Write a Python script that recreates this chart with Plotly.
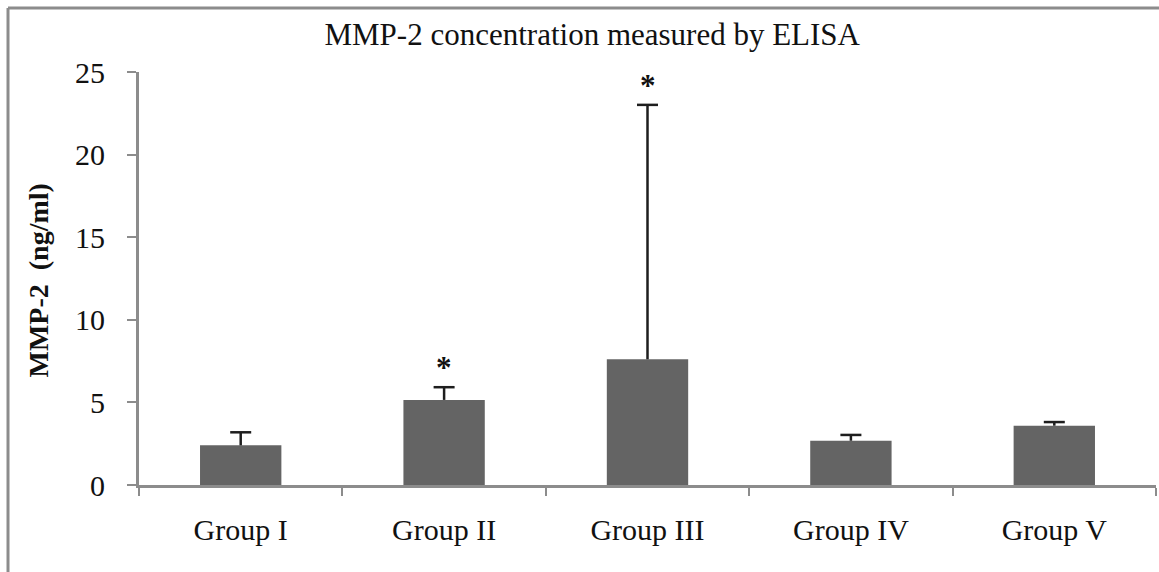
import plotly.graph_objects as go

# MMP-2 by group (mean and standard deviation, ng/ml)
groups = ["Group I", "Group II", "Group III", "Group IV", "Group V"]
means = [2.40, 5.15, 7.61, 2.68, 3.59]
sds = [0.79, 0.77, 15.4, 0.35, 0.22]
significant = [False, True, True, False, False]
y_ticks = [0, 5, 10, 15, 20, 25]

SERIF = "Liberation Serif, Times New Roman, serif"
AXIS_GREY = "#8c8c8c"
INK = "#1e1e1e"

tops = [m + s for m, s in zip(means, sds)]

fig = go.Figure()
fig.add_trace(go.Bar(
    x=groups,
    y=means,
    marker=dict(color="#646464", line=dict(width=0)),
    error_y=dict(type="data", array=sds, symmetric=False, arrayminus=[0] * len(sds),
                 color=INK, thickness=2.5, width=0),
    width=0.4,
))
# caps only at the upper end of each error bar
fig.add_trace(go.Scatter(
    x=groups, y=tops, mode="markers", hoverinfo="skip",
    marker=dict(symbol="line-ew", size=15, line=dict(color=INK, width=2.5)),
))

# significance markers above the error bars
for g, t, sig in zip(groups, tops, significant):
    if sig:
        fig.add_annotation(x=g, y=t, text="<b>*</b>", showarrow=False,
                           yanchor="bottom", yshift=0,
                           font=dict(family=SERIF, size=31, color="#111"))

# y-axis title
fig.add_annotation(xref="paper", yref="paper", x=-0.116, y=0.494,
                   text="<b>MMP-2  (ng/ml)</b>", textangle=-90, showarrow=False,
                   font=dict(family=SERIF, size=28, color="#111"))

# outer frame
frame = dict(color=AXIS_GREY, width=3)
fig.add_shape(type="line", xref="paper", yref="paper", x0=-0.1288, x1=-0.1288,
              y0=-0.3, y1=1.155, line=frame)
fig.add_shape(type="line", xref="paper", yref="paper", x0=-0.1288, x1=1.1,
              y0=1.155, y1=1.155, line=frame)

fig.update_layout(
    width=1159, height=572,
    margin=dict(l=139, r=3, t=72, b=87),
    paper_bgcolor="white", plot_bgcolor="white",
    showlegend=False,
    font=dict(family=SERIF, size=31, color="#111"),
    title=dict(text="MMP-2 concentration measured by ELISA", x=0.511, xanchor="center",
               y=1 - 34 / 572, yanchor="middle", font=dict(family=SERIF, size=31, color="#111")),
    xaxis=dict(showline=True, linecolor=AXIS_GREY, linewidth=3, ticks="outside",
               tickson="boundaries", ticklen=8, tickwidth=2, tickcolor=AXIS_GREY,
               showgrid=False, ticklabelstandoff=16, tickfont=dict(size=30)),
    yaxis=dict(range=[0, 25], tickvals=y_ticks, showline=True, linecolor=AXIS_GREY,
               linewidth=3, ticks="outside", ticklen=9, tickwidth=2, tickcolor=AXIS_GREY,
               showgrid=False, zeroline=False, ticklabelstandoff=16, tickfont=dict(size=30)),
)

fig.write_html("out.html")
